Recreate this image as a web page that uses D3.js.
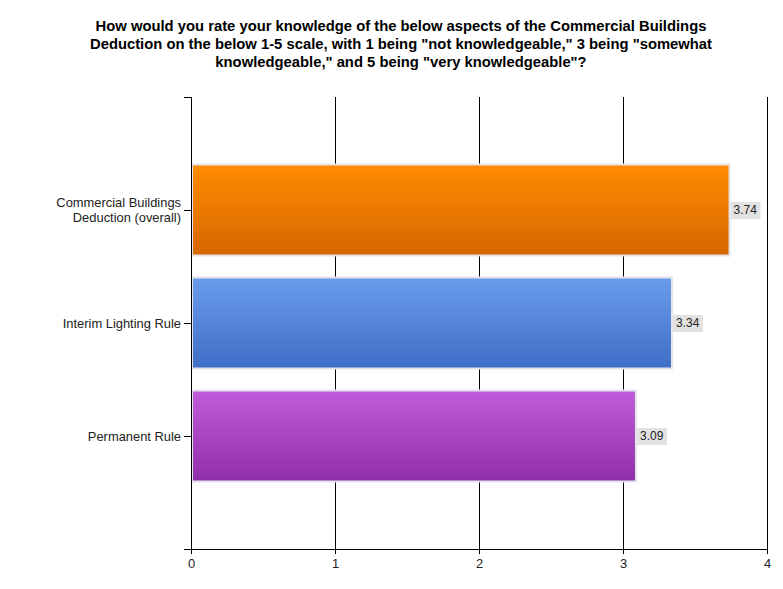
<!DOCTYPE html>
<html><head><meta charset="utf-8">
<script src="https://cdn.jsdelivr.net/npm/d3@7"></script>
<style>body{margin:0;background:#fff}svg{display:block;font-family:"Liberation Sans",Arial,sans-serif}</style>
</head><body>
<svg id="c" width="783" height="589"></svg>
<script>
const titleLines = ["How would you rate your knowledge of the below aspects of the Commercial Buildings",
 "Deduction on the below 1-5 scale, with 1 being \"not knowledgeable,\" 3 being \"somewhat",
 "knowledgeable,\" and 5 being \"very knowledgeable\"?"];
const categories = [["Commercial Buildings","Deduction (overall)"],["Interim Lighting Rule"],["Permanent Rule"]];
const values = [3.74, 3.34, 3.09];
const colorsTop = ["#ff8c00","#6a9cec","#c25bdb"];
const colorsBottom = ["#d66600","#3f6ec6","#8f2fa8"];
const xTicks = [0,1,2,3,4];

const svg = d3.select("#c");
const L=191,R=767,T=97,B=549;
const x = d3.scaleLinear().domain([0,4]).range([L,R]);
const y = d3.scalePoint().domain(d3.range(categories.length)).range([T,B]).padding(1);
const bh = 91;

const defs = svg.append("defs");
values.forEach((v,i)=>{
  const g = defs.append("linearGradient").attr("id","g"+i).attr("x1",0).attr("y1",0).attr("x2",0).attr("y2",1);
  g.append("stop").attr("offset","0%").attr("stop-color",colorsTop[i]);
  g.append("stop").attr("offset","100%").attr("stop-color",colorsBottom[i]);
});

// title
svg.append("text").attr("x",401).attr("y",31).attr("text-anchor","middle")
  .attr("font-size",14.8).attr("font-weight","bold").attr("fill","#000")
  .selectAll("tspan").data(titleLines).join("tspan").attr("x",401).attr("dy",(d,i)=>i?18:0).text(d=>d);

// grid lines
svg.append("g").selectAll("line").data(xTicks.slice(1)).join("line")
  .attr("x1",d=>Math.round(x(d))+0.5).attr("x2",d=>Math.round(x(d))+0.5)
  .attr("y1",T).attr("y2",B).attr("stroke","#000");

// bars
svg.append("g").selectAll("rect").data(values).join("rect")
  .attr("x",x(0)+1).attr("y",(d,i)=>y(i)-bh/2)
  .attr("width",d=>x(d)-x(0)-1).attr("height",bh)
  .attr("fill",(d,i)=>`url(#g${i})`).attr("stroke","#e4e4ec").attr("stroke-width",2);

// value labels
const vl = svg.append("g").selectAll("g").data(values).join("g")
  .attr("transform",(d,i)=>`translate(${x(d)+1},${y(i)})`);
vl.append("rect").attr("x",0).attr("y",-8).attr("width",30).attr("height",17).attr("fill","#e2e2e2");
vl.append("text").attr("x",3).attr("y",4).attr("font-size",12).attr("fill","#222").text(d=>d.toFixed(2));

// y axis
const ya = svg.append("g");
ya.append("line").attr("x1",L+0.5).attr("x2",L+0.5).attr("y1",T).attr("y2",B).attr("stroke","#000");
ya.append("line").attr("x1",L-7).attr("x2",L).attr("y1",T+0.5).attr("y2",T+0.5).attr("stroke","#000");
ya.selectAll("line.t").data(categories).join("line").attr("class","t")
  .attr("x1",L-7).attr("x2",L).attr("y1",(d,i)=>Math.round(y(i))+0.5).attr("y2",(d,i)=>Math.round(y(i))+0.5).attr("stroke","#000");
ya.selectAll("text").data(categories).join("text")
  .attr("text-anchor","end").attr("font-size",12.9).attr("fill","#222")
  .attr("transform",(d,i)=>`translate(${L-10},${y(i)+4.5-(d.length-1)*7.5})`)
  .selectAll("tspan").data(d=>d).join("tspan").attr("x",0).attr("dy",(d,i)=>i?15:0).text(d=>d);

// x axis
const xa = svg.append("g").attr("transform",`translate(0,${B})`)
  .call(d3.axisBottom(x).tickValues(xTicks).tickFormat(d3.format("d")).tickSizeInner(5).tickSizeOuter(0));
xa.select(".domain").attr("d",`M${L-7},0.5H${R}`).attr("stroke","#000");
xa.selectAll(".tick line").attr("stroke","#000");
xa.selectAll(".tick text").attr("font-size",12.9).attr("fill","#222").attr("font-family","Liberation Sans, Arial, sans-serif").attr("dy","0.85em");
</script>
</body></html>
